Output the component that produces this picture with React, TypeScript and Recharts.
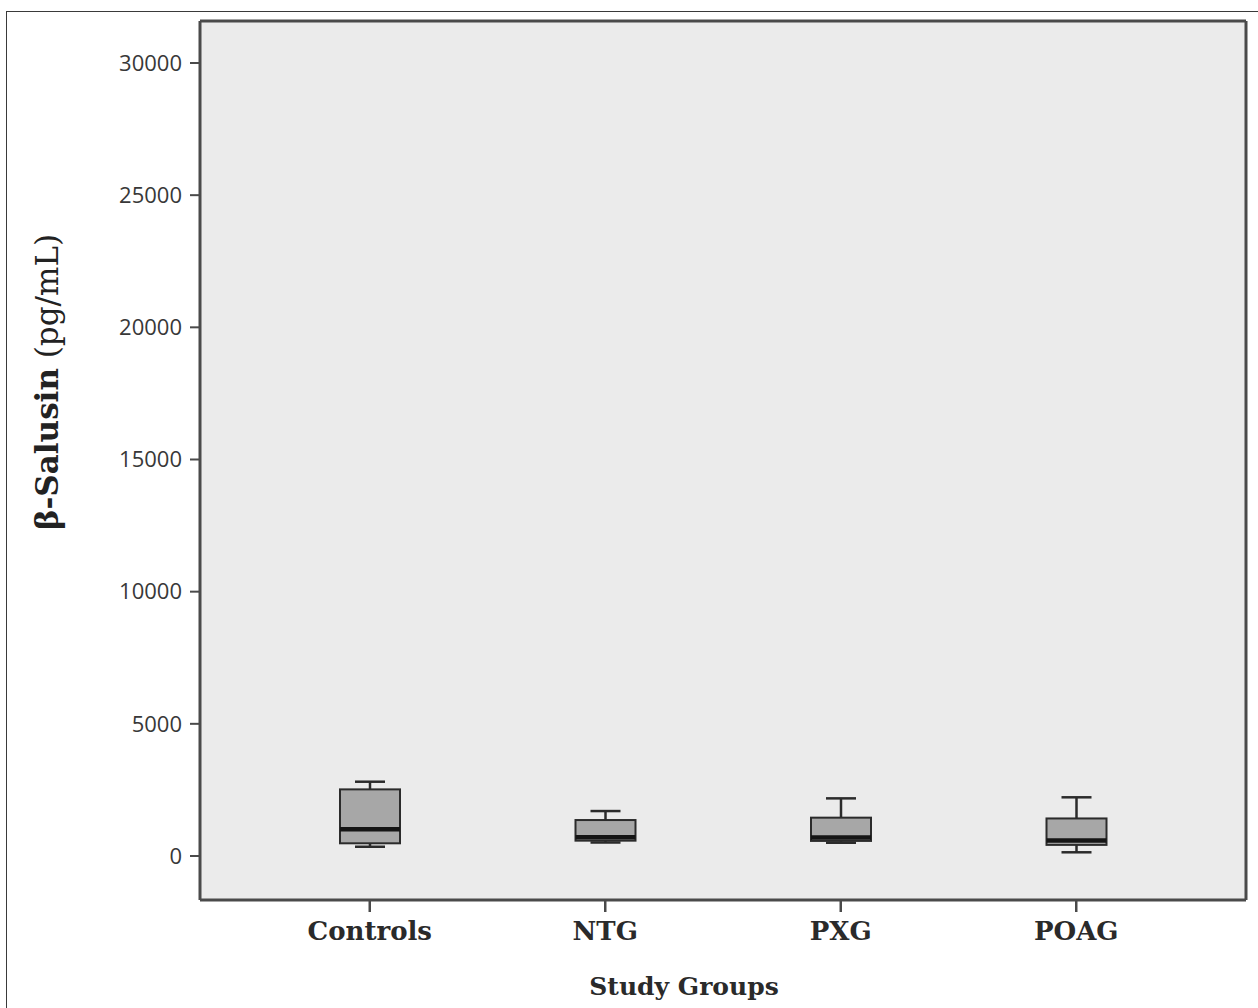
import React from "react";
import {
  ComposedChart,
  Bar,
  XAxis,
  YAxis,
  CartesianGrid,
} from "recharts";

// box plot values (pg/mL)
const groups = ["Controls", "NTG", "PXG", "POAG"];
const mins = [350, 510, 500, 140];
const q1s = [480, 580, 570, 420];
const medians = [1010, 710, 700, 590];
const q3s = [2520, 1360, 1450, 1420];
const maxs = [2810, 1700, 2180, 2220];
const yTicks = [0, 5000, 10000, 15000, 20000, 25000, 30000];

const data = groups.map((g, i) => ({
  group: g,
  min: mins[i],
  q1: q1s[i],
  median: medians[i],
  q3: q3s[i],
  max: maxs[i],
}));

const INK = "#2b2b2b";
const AXIS = "#4a4a4a";

function BoxShape(props: any) {
  const { x, y, width, height, payload } = props;
  const span = payload.max - payload.min;
  const k = span > 0 ? height / span : 0;
  const py = (v: number) => y + (payload.max - v) * k;
  const cx = x + width / 2;
  const cap = width / 2;
  return (
    <g>
      <line x1={cx} x2={cx} y1={py(payload.max)} y2={py(payload.q3)} stroke={INK} strokeWidth={2.5} />
      <line x1={cx} x2={cx} y1={py(payload.q1)} y2={py(payload.min)} stroke={INK} strokeWidth={2.5} />
      <line x1={cx - cap / 2} x2={cx + cap / 2} y1={py(payload.max)} y2={py(payload.max)} stroke={INK} strokeWidth={2.5} />
      <line x1={cx - cap / 2} x2={cx + cap / 2} y1={py(payload.min)} y2={py(payload.min)} stroke={INK} strokeWidth={2.5} />
      <rect
        x={x}
        y={py(payload.q3)}
        width={width}
        height={py(payload.q1) - py(payload.q3)}
        fill="#a7a7a7"
        stroke={INK}
        strokeWidth={2}
      />
      <line x1={x} x2={x + width} y1={py(payload.median)} y2={py(payload.median)} stroke="#151515" strokeWidth={4.5} />
    </g>
  );
}

export default function App() {
  return (
    <div style={{ position: "fixed", left: 0, top: 0, width: 1258, height: 1008, background: "#fff", overflow: "hidden" }}>
      <div
        style={{
          position: "absolute",
          left: 6,
          top: 11,
          width: 1270,
          height: 1020,
          border: "1.5px solid #3a3a3a",
          boxSizing: "border-box",
        }}
      />
      <div style={{ position: "absolute", left: 0, top: 0 }}>
        <ComposedChart
          width={1258}
          height={1008}
          data={data}
          margin={{ top: 21, right: 12, bottom: 0, left: 100 }}
        >
          <CartesianGrid
            fill="#ebebeb"
            horizontalPoints={[21]}
            verticalPoints={[1246]}
            stroke={AXIS}
            strokeWidth={3}
          />
          <XAxis
            dataKey="group"
            height={108}
            padding={{ left: 52, right: 52 }}
            axisLine={{ stroke: AXIS, strokeWidth: 3 }}
            tickLine={{ stroke: AXIS, strokeWidth: 2.5 }}
            tickSize={12}
            tickMargin={10}
            tick={{ fill: "#2a2a2a", fontFamily: "DejaVu Serif", fontWeight: 700, fontSize: 26 }}
          />
          <YAxis
            type="number"
            domain={[-1665, 31589]}
            allowDataOverflow
            ticks={yTicks}
            interval={0}
            width={100}
            axisLine={{ stroke: AXIS, strokeWidth: 3 }}
            tickLine={{ stroke: AXIS, strokeWidth: 2 }}
            tickSize={10}
            tickMargin={8}
            tick={{ fill: "#383838", fontFamily: "Open Sans", fontSize: 22 }}
          />
          <Bar
            dataKey={(d: any) => [d.min, d.max]}
            barSize={60}
            shape={BoxShape}
            isAnimationActive={false}
          />
        </ComposedChart>
      </div>
      <div
        style={{
          position: "absolute",
          left: 684,
          top: 986,
          transform: "translate(-50%, -50%)",
          whiteSpace: "nowrap",
          fontFamily: "DejaVu Serif",
          fontWeight: 700,
          fontSize: 25,
          color: "#2a2a2a",
        }}
      >
        Study Groups
      </div>
      <div
        style={{
          position: "absolute",
          left: 47,
          top: 382,
          transform: "translate(-50%, -50%) rotate(-90deg)",
          whiteSpace: "nowrap",
          fontFamily: "DejaVu Serif",
          fontSize: 31,
          color: "#222",
        }}
      >
        <span style={{ fontWeight: 700 }}>β-Salusin</span> (pg/mL)
      </div>
    </div>
  );
}
